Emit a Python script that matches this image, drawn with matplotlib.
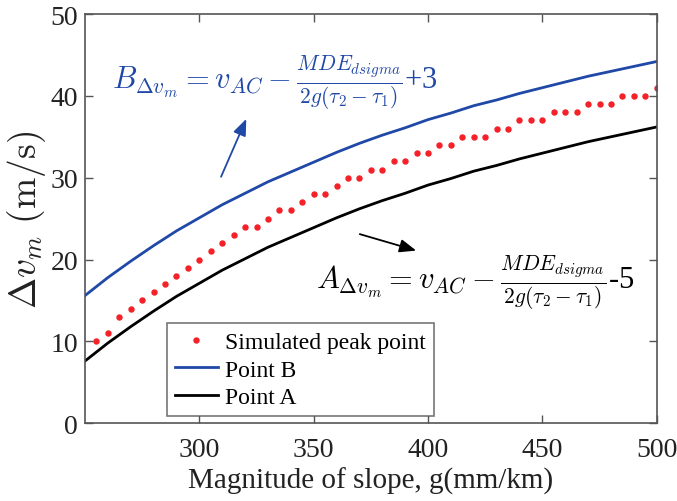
import numpy as np
import matplotlib
matplotlib.use("Agg")
import matplotlib.pyplot as plt

# Simulated peak points
g_sim = np.arange(255, 501, 5)
dv_sim = [10, 11, 13, 14, 15, 16, 17, 18, 19, 20,
          21, 22, 23, 24, 24, 25, 26, 26, 27, 28,
          28, 29, 30, 30, 31, 31, 32, 32, 33, 33,
          34, 34, 35, 35, 35, 36, 36, 37, 37, 37,
          38, 38, 38, 39, 39, 39, 40, 40, 40, 41]

# Bound curves for point B and point A
g_curve = np.arange(250, 501, 10)
dv_B = [15.6, 17.8, 19.8, 21.7, 23.5, 25.1, 26.7, 28.1, 29.5, 30.7,
        31.9, 33.1, 34.2, 35.2, 36.1, 37.1, 37.9, 38.8, 39.5, 40.3,
        41.0, 41.7, 42.4, 43.0, 43.6, 44.2]
dv_A = [7.6, 9.8, 11.8, 13.7, 15.5, 17.1, 18.7, 20.1, 21.5, 22.7,
        23.9, 25.1, 26.2, 27.2, 28.1, 29.1, 29.9, 30.8, 31.5, 32.3,
        33.0, 33.7, 34.4, 35.0, 35.6, 36.2]

x_ticks = [300, 350, 400, 450, 500]
y_ticks = [0, 10, 20, 30, 40, 50]

blue = "#2048a6"

plt.rcParams["font.family"] = ["Liberation Serif", "DejaVu Serif"]
plt.rcParams["mathtext.fontset"] = "cm"

fig = plt.figure(figsize=(6.77, 5.02), dpi=100)
ax = fig.add_axes([0.1256, 0.155, 0.8444, 0.815])

ax.plot(g_sim, dv_sim, linestyle="none", marker="o", markersize=3.6,
        color="#f52028", label="Simulated peak point")
ax.plot(g_curve, dv_B, color=blue, lw=2, label="Point B")
ax.plot(g_curve, dv_A, color="black", lw=2, label="Point A")

ax.set_xlim(250, 500)
ax.set_ylim(0, 50)
ax.set_xticks(x_ticks)
ax.set_yticks(y_ticks)
ax.tick_params(direction="in", length=6, width=1, colors="#555555",
               labelcolor="#222222", labelsize=20, top=True, right=True)
ax.tick_params(axis="x", pad=10)
ax.tick_params(axis="y", pad=5)
for s in ax.spines.values():
    s.set_color("#555555")
    s.set_linewidth(1.2)

ax.set_xlabel("Magnitude of slope, g(mm/km)", fontsize=21, color="#222222", labelpad=3)
ax.set_ylabel(r"$\Delta v_m\ \mathrm{(m/s)}$", fontsize=27, color="#222222", labelpad=2)

# formulas and arrows
ax.text(261.8, 41.7,
        r"$B_{\Delta v_m} = v_{AC} - \frac{MDE_{dsigma}}{2g(\tau_2 - \tau_1)}$+3",
        color=blue, fontsize=22, va="center", ha="left")
ax.annotate("", xy=(321, 37.5), xytext=(309, 29.8),
            arrowprops=dict(arrowstyle="-|>,head_length=1.0,head_width=0.4",
                            color=blue, lw=1.3))

ax.text(351, 17.3,
        r"$A_{\Delta v_m} = v_{AC} - \frac{MDE_{dsigma}}{2g(\tau_2 - \tau_1)}$-5",
        color="black", fontsize=22, va="center", ha="left")
ax.annotate("", xy=(396, 21.0), xytext=(369, 23.2),
            arrowprops=dict(arrowstyle="-|>,head_length=1.0,head_width=0.4",
                            color="black", lw=1.3))

leg = ax.legend(loc="lower left", bbox_to_anchor=(0.143, 0.017), fontsize=17,
                frameon=True, fancybox=False, edgecolor="#555555",
                handlelength=1.8, handletextpad=0.3, borderpad=0.35,
                labelspacing=0.25, borderaxespad=0)
leg.get_frame().set_linewidth(1.2)

fig.savefig("out.png", dpi=100)
